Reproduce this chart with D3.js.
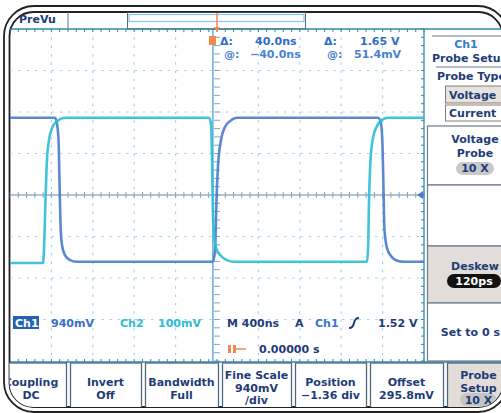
<!DOCTYPE html>
<html>
<head>
<meta charset="utf-8">
<script src="https://cdn.jsdelivr.net/npm/d3@7"></script>
<style>
  body { margin: 0; background: #fff; }
  svg text { font-family: "DejaVu Sans", sans-serif; font-weight: bold; }
</style>
</head>
<body>
<svg id="scope" width="501" height="413"></svg>
<script>
// waveform samples: time in ns, level in divisions from centre
const ch1Time  = [-2000, -1565, -1546, -1531, -1522, -1512, -1498, -1469, -1420, -1353, -39, -19, -5, 10, 39, 77, 126, 193, 1556, 1585, 1599, 1609, 1618, 1643, 1681, 1749, 1817, 2000];
const ch1Level = [1.86, 1.86, 1.71, 1.33, 0.36, -0.72, -1.20, -1.45, -1.57, -1.61, -1.61, -1.33, -0.12, 0.72, 1.33, 1.64, 1.78, 1.86, 1.86, 1.71, 1.20, 0.12, -0.84, -1.28, -1.47, -1.59, -1.61, -1.61];
const ch2Time  = [-2000, -1681, -1672, -1657, -1643, -1623, -1594, -1546, -1469, -77, -58, -48, -39, -24, 0, 39, 97, 155, 1449, 1459, 1469, 1483, 1507, 1546, 1594, 1652, 2000];
const ch2Level = [-1.64, -1.64, -1.33, -0.12, 0.84, 1.33, 1.61, 1.78, 1.86, 1.86, 1.71, 0.84, -0.48, -1.08, -1.33, -1.47, -1.57, -1.61, -1.61, -1.33, -0.12, 0.84, 1.37, 1.66, 1.81, 1.86, 1.86];

const cursorTimes = [-40];
const gridTimes = [-1600, -1200, -800, -400, 400, 800, 1200, 1600];
const gridLevels = [-3, -2, -1, 1, 2, 3];

// bottom menu buttons: label lines, centre, box edges
const buttonLines = [["Coupling", "DC"], ["Invert", "Off"], ["Bandwidth", "Full"], ["Fine Scale", "940mV", "/div"],
                     ["Position", "\u22121.36 div"], ["Offset", "295.8mV"], ["Probe", "Setup", "10 X"]];
const buttonEdges = [[-20, 66], [70, 141], [145, 218], [222, 291], [295, 366], [370, 443], [447, 530]];

const navy = "#1f3c78";
const ch1Col = "#4a7bcc";
const ch2Col = "#2cbcd6";
const teal = "#2f8bab";

const svg = d3.select("#scope");

svg.append("defs").append("clipPath").attr("id", "inner")
  .append("rect").attr("x", 9.5).attr("y", 12).attr("width", 493).attr("height", 395).attr("rx", 24);

// double rounded frame
svg.append("rect").attr("x", 4).attr("y", 6).attr("width", 504).attr("height", 406).attr("rx", 30)
  .attr("fill", "#fff").attr("stroke", "#222").attr("stroke-width", 1.8);
svg.append("rect").attr("x", 9.5).attr("y", 12).attr("width", 493).attr("height", 395).attr("rx", 24)
  .attr("fill", "#fff").attr("stroke", "#222").attr("stroke-width", 1.8);

const g = svg.append("g").attr("clip-path", "url(#inner)");

const x = d3.scaleLinear().domain([-2000, 2000]).range([10, 424]);
const y = d3.scaleLinear().domain([-4, 4]).range([361, 29]);

// dotted graticule
g.selectAll(".vgrid").data(gridTimes).enter().append("line")
  .attr("x1", d => x(d)).attr("x2", d => x(d)).attr("y1", y(4)).attr("y2", y(-4))
  .attr("stroke", "#a9d2ee").attr("stroke-width", 1.2).attr("stroke-dasharray", "2.5,5.8");
g.selectAll(".hgrid").data(gridLevels).enter().append("line")
  .attr("x1", x(-2000)).attr("x2", x(2000)).attr("y1", d => y(d)).attr("y2", d => y(d))
  .attr("stroke", "#a9d2ee").attr("stroke-width", 1.2).attr("stroke-dasharray", "2.5,5.8");

// centre axes with minor ticks
const minorT = d3.range(-2000, 2001, 80);
const minorV = d3.range(-4, 4.01, 0.2);
g.append("line").attr("x1", x(-2000)).attr("x2", x(2000)).attr("y1", y(0)).attr("y2", y(0))
  .attr("stroke", "#7088a2").attr("stroke-width", 1.2);
g.selectAll(".htick").data(minorT).enter().append("line")
  .attr("x1", d => x(d)).attr("x2", d => x(d)).attr("y1", y(0) - 3).attr("y2", y(0) + 3)
  .attr("stroke", "#7aa7cc").attr("stroke-width", 1);
g.selectAll(".vtick").data(minorV).enter().append("line")
  .attr("x1", x(0) - 3).attr("x2", x(0) + 3).attr("y1", d => y(d)).attr("y2", d => y(d))
  .attr("stroke", "#7aa7cc").attr("stroke-width", 1);

// cursor line
g.selectAll(".cursor").data(cursorTimes).enter().append("line")
  .attr("x1", d => x(d)).attr("x2", d => x(d)).attr("y1", y(4)).attr("y2", y(-4))
  .attr("stroke", "#74b0e2").attr("stroke-width", 1.6);

// graticule borders: top, right, bottom with ticks
g.append("line").attr("x1", 10).attr("x2", 501).attr("y1", y(4)).attr("y2", y(4)).attr("stroke", teal).attr("stroke-width", 1.3);
g.append("line").attr("x1", x(2000)).attr("x2", x(2000)).attr("y1", y(4)).attr("y2", 363).attr("stroke", teal).attr("stroke-width", 1.3);
g.append("line").attr("x1", 10).attr("x2", 501).attr("y1", y(-4) + 1).attr("y2", y(-4) + 1).attr("stroke", teal).attr("stroke-width", 1.3);
g.selectAll(".ttick").data(minorT).enter().append("line")
  .attr("x1", d => x(d)).attr("x2", d => x(d)).attr("y1", y(4)).attr("y2", y(4) + 3).attr("stroke", teal);
g.selectAll(".btick").data(minorT).enter().append("line")
  .attr("x1", d => x(d)).attr("x2", d => x(d)).attr("y1", y(-4) - 2).attr("y2", y(-4) + 1).attr("stroke", teal);
g.selectAll(".rtick").data(minorV).enter().append("line")
  .attr("x1", x(2000) - 3).attr("x2", x(2000)).attr("y1", d => y(d)).attr("y2", d => y(d)).attr("stroke", teal);

// traces
const line = d3.line().x(d => x(d[0])).y(d => y(d[1])).curve(d3.curveMonotoneX);
g.append("path").datum(d3.zip(ch1Time, ch1Level)).attr("d", line)
  .attr("fill", "none").attr("stroke", ch1Col).attr("stroke-width", 2.6).attr("stroke-opacity", 0.9);
g.append("path").datum(d3.zip(ch2Time, ch2Level)).attr("d", line)
  .attr("fill", "none").attr("stroke", ch2Col).attr("stroke-width", 2.6).attr("stroke-opacity", 0.9);

// ch1 reference marker
g.append("path").attr("d", `M${x(2000) - 7},${y(0)} l6,-4 l0,8 z`).attr("fill", ch1Col);

// top strip
g.append("text").attr("x", 19).attr("y", 23).attr("font-size", 11).attr("fill", navy).text("PreVu");
g.append("line").attr("x1", 68).attr("x2", 68).attr("y1", 12).attr("y2", 29).attr("stroke", "#5a7890");
g.append("rect").attr("x", 127.5).attr("y", 12).attr("width", 178).attr("height", 17).attr("fill", "none").attr("stroke", "#4c7088");
g.append("rect").attr("x", 129).attr("y", 14.5).attr("width", 175).attr("height", 7).attr("fill", "none").attr("stroke", "#8cc4ea").attr("stroke-width", 1.2);
g.append("line").attr("x1", x(0)).attr("x2", x(0)).attr("y1", 13).attr("y2", 28).attr("stroke", "#f08a50").attr("stroke-width", 1.5);
g.append("path").attr("d", `M${x(0) - 3},27 h6 l-3,5 z`).attr("fill", "#f08a50");

// cursor readout
g.append("rect").attr("x", 209).attr("y", 36).attr("width", 7).attr("height", 9).attr("fill", "#f4894a");
const readA = [["\u0394:", 220], ["40.0ns", 255], ["\u0394:", 324], ["1.65 V", 360]];
const readB = [["@:", 224], ["\u221240.0ns", 250], ["@:", 327], ["51.4mV", 354]];
g.selectAll(".ra").data(readA).enter().append("text")
  .attr("x", d => d[1]).attr("y", 45).attr("font-size", 11).attr("fill", "#2f6cc8").text(d => d[0]);
g.selectAll(".rb").data(readB).enter().append("text")
  .attr("x", d => d[1]).attr("y", 58).attr("font-size", 11).attr("fill", "#4a82d2").text(d => d[0]);

// channel / timebase readout
g.append("rect").attr("x", 13).attr("y", 316).attr("width", 26).attr("height", 13).attr("fill", "#2463b4");
g.append("text").attr("x", 15).attr("y", 327).attr("font-size", 11).attr("fill", "#fff").text("Ch1");
g.append("text").attr("x", 51).attr("y", 327).attr("font-size", 11).attr("fill", "#3a6fc4").text("940mV");
g.append("text").attr("x", 120).attr("y", 327).attr("font-size", 11).attr("fill", ch2Col).text("Ch2");
g.append("text").attr("x", 158).attr("y", 327).attr("font-size", 11).attr("fill", ch2Col).text("100mV");
g.append("text").attr("x", 227).attr("y", 327).attr("font-size", 11).attr("fill", navy).text("M 400ns");
g.append("text").attr("x", 295).attr("y", 327).attr("font-size", 11).attr("fill", navy).text("A");
g.append("text").attr("x", 315).attr("y", 327).attr("font-size", 11).attr("fill", "#3a74cc").attr("font-weight", "normal").text("Ch1");
g.append("path").attr("d", "M349,328 q4,0 5,-5 q1,-5 5,-5").attr("fill", "none").attr("stroke", navy).attr("stroke-width", 2);
g.append("text").attr("x", 378).attr("y", 327).attr("font-size", 11).attr("fill", navy).text("1.52 V");
g.append("rect").attr("x", 228).attr("y", 345).attr("width", 3).attr("height", 8).attr("fill", "#f08a50");
g.append("rect").attr("x", 233).attr("y", 345).attr("width", 3).attr("height", 8).attr("fill", "#f08a50");
g.append("line").attr("x1", 236).attr("x2", 246).attr("y1", 349).attr("y2", 349).attr("stroke", "#f08a50").attr("stroke-width", 1.5);
g.append("text").attr("x", 259).attr("y", 353).attr("font-size", 11).attr("fill", navy).text("0.00000 s");

// right-hand menu
const boxStroke = "#6d7b8c";
g.append("line").attr("x1", 432).attr("x2", 501).attr("y1", 36).attr("y2", 36).attr("stroke", boxStroke);
g.append("text").attr("x", 466).attr("y", 48).attr("text-anchor", "middle").attr("font-size", 11).attr("fill", "#2f7fd0").attr("font-weight", "normal").text("Ch1");
g.append("text").attr("x", 432).attr("y", 62).attr("font-size", 11).attr("fill", navy).text("Probe Setup");
g.append("line").attr("x1", 436).attr("x2", 501).attr("y1", 67).attr("y2", 67).attr("stroke", boxStroke);
g.append("text").attr("x", 437).attr("y", 80).attr("font-size", 11).attr("fill", navy).text("Probe Type");
g.append("rect").attr("x", 445.5).attr("y", 86).attr("width", 70).attr("height", 17).attr("fill", "#e6e2de").attr("stroke", "#8a7c74");
g.append("rect").attr("x", 445.5).attr("y", 105).attr("width", 70).attr("height", 16).attr("fill", "#fff").attr("stroke", "#8a7c74");
g.append("text").attr("x", 449).attr("y", 99).attr("font-size", 11).attr("fill", navy).text("Voltage");
g.append("text").attr("x", 449).attr("y", 117).attr("font-size", 11).attr("fill", navy).text("Current");

const sideBoxes = [[126, 185, "#fff"], [185, 246, "#fff"], [246, 303, "#e2ddd8"], [303, 361, "#fff"]];
g.selectAll(".side").data(sideBoxes).enter().append("rect")
  .attr("x", 427.5).attr("y", d => d[0]).attr("width", 90).attr("height", d => d[1] - d[0])
  .attr("fill", d => d[2]).attr("stroke", boxStroke).attr("stroke-width", 1.2);
const sideText = [["Voltage", 143], ["Probe", 157], ["10 X", 172], ["Deskew", 270], ["Set to 0 s", 336]];
g.append("rect").attr("x", 456).attr("y", 162).attr("width", 38).attr("height", 13).attr("rx", 6.5).attr("fill", "#c9c9c9");
g.append("rect").attr("x", 447).attr("y", 274).attr("width", 54).attr("height", 14).attr("rx", 7).attr("fill", "#111");
g.selectAll(".st").data(sideText).enter().append("text")
  .attr("x", d => d[0] === "Set to 0 s" ? 500 : 475).attr("y", d => d[1])
  .attr("text-anchor", d => d[0] === "Set to 0 s" ? "end" : "middle")
  .attr("font-size", 11).attr("fill", navy).text(d => d[0]);
g.append("text").attr("x", 474).attr("y", 285).attr("text-anchor", "middle").attr("font-size", 11).attr("fill", "#fff").text("120ps");

// bottom menu
g.selectAll(".btn").data(buttonEdges).enter().append("rect")
  .attr("x", d => d[0] + 0.5).attr("y", 363).attr("width", d => d[1] - d[0]).attr("height", 60)
  .attr("fill", (d, i) => i === 6 ? "#e2ddd8" : "#fff").attr("stroke", "#4f6a80").attr("stroke-width", 1.3);
g.append("rect").attr("x", 460).attr("y", 393).attr("width", 36).attr("height", 13).attr("rx", 6.5).attr("fill", "#c4c4c4");
buttonLines.forEach((lines, i) => {
  const cx = (Math.max(buttonEdges[i][0], -30) + buttonEdges[i][1]) / 2 + (i === 0 ? 8 : 0) + (i === 6 ? -10 : 0);
  const top = lines.length === 3 ? 379 : 386;
  lines.forEach((t, j) => {
    g.append("text").attr("x", cx).attr("y", top + j * 12.5).attr("text-anchor", "middle")
      .attr("font-size", 11).attr("fill", navy).text(t);
  });
});
</script>
</body>
</html>
